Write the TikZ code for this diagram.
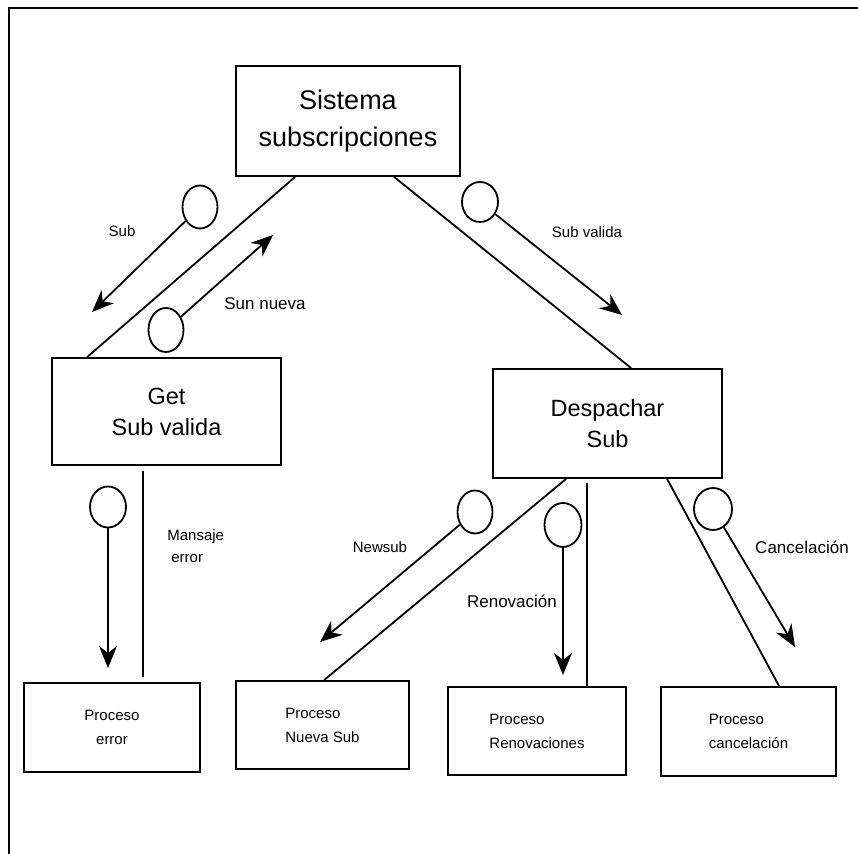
\documentclass[tikz,border=0pt]{standalone}
\usepackage{fontspec}
\setmainfont{Liberation Sans}
\usetikzlibrary{arrows.meta,shapes.geometric}
\begin{document}
\begin{tikzpicture}[x=0.5pt,y=-0.5pt,
  box/.style={draw,line width=0.9pt,rectangle,inner sep=0pt},
  bigfont/.style={font=\fontsize{13.5}{18.5}\selectfont},
  midfont/.style={font=\fontsize{11.75}{15.5}\selectfont},
  smallfont/.style={font=\fontsize{7.5}{12}\selectfont},
  lbl/.style={font=\fontsize{7.5}{11}\selectfont,inner sep=0pt},
  lblbig/.style={font=\fontsize{8.5}{11}\selectfont,inner sep=0pt},
  port/.style={draw,ellipse,line width=0.9pt,minimum width=18pt,minimum height=21.5pt,inner sep=0pt},
  flow/.style={line width=0.9pt,-{Stealth[length=11pt,width=9pt,inset=3.5pt]}},
  link/.style={line width=0.9pt}
]
\useasboundingbox[fill=white] (0,0) rectangle (858,854);
% frame
\coordinate (fr1) at (858,8);
\coordinate (fr2) at (9,8);
\coordinate (fr3) at (9,854);
\draw[link] (fr1) -- (fr2) -- (fr3);

% boxes
\node[box,bigfont,align=center,minimum width=112pt,minimum height=55pt] (A) at (348,121) {Sistema\\subscripciones};
\node[box,midfont,align=center,minimum width=114.5pt,minimum height=53.5pt] (B) at (166.5,411.5) {Get\\Sub valida};
\node[box,midfont,align=center,minimum width=114.5pt,minimum height=54.5pt] (C) at (607.5,423.5) {Despachar\\Sub};
\node[box,smallfont,align=center,minimum width=88pt,minimum height=44.5pt] (P1) at (112,727.5) {Proceso\\error};
\node[box,smallfont,align=left,minimum width=86.5pt,minimum height=44pt] (P2) at (322.5,725) {Proceso\\Nueva Sub};
\node[box,smallfont,align=left,minimum width=89pt,minimum height=44pt] (P3) at (537,731) {Proceso\\Renovaciones};
\node[box,smallfont,align=left,minimum width=87.5pt,minimum height=44.5pt] (P4) at (748.5,731.5) {Proceso\\cancelación};

% links between boxes
\draw[link] ([xshift=30pt]A.south west) -- ([xshift=18pt]B.north west);
\draw[link] ([xshift=79.5pt]A.south west) -- ([xshift=69.5pt]C.north west);
\draw[link] ([xshift=46pt,yshift=-2.5pt]B.south west) -- ([xshift=60pt,yshift=2.5pt]P1.north west);
\draw[link] ([xshift=37pt]C.south west) -- ([xshift=44.5pt]P2.north west);
\draw[link] ([xshift=47.5pt,yshift=-2pt]C.south west) -- ([xshift=70pt]P3.north west);
\draw[link] ([xshift=87.5pt]C.south west) -- ([xshift=59.5pt]P4.north west);

% flow markers
\node[port,minimum width=17.5pt,minimum height=21.5pt] (c1) at (200,207) {};
\coordinate (t1) at (92,312);
\draw[flow] (c1) -- (t1);
\node[lbl] (l1) at (122,231) {Sub};

\node[port,minimum width=17.5pt,minimum height=22pt] (c2) at (166,330) {};
\coordinate (t2) at (273,235);
\draw[flow] (c2) -- (t2);
\node[lblbig] (l2) at (265,304) {Sun nueva};

\node[port,minimum width=18pt,minimum height=20pt] (c3) at (480,202) {};
\coordinate (t3) at (622,315);
\draw[flow] (c3) -- (t3);
\node[lbl] (l3) at (587,232) {Sub valida};

\node[port,minimum width=18pt,minimum height=20.5pt] (c4) at (108,507) {};
\coordinate (t4) at (108,668);
\draw[flow] (c4) -- (t4);
\node[lbl,align=left,anchor=north west] (l4) at (167,529) {Mansaje\\\hspace*{2pt}error};

\node[port,minimum width=17.5pt,minimum height=21.5pt] (c5) at (475,512) {};
\coordinate (t5) at (320,642);
\draw[flow] (c5) -- (t5);
\node[lbl] (l5) at (380,547) {Newsub};

\node[port,minimum width=18.5pt,minimum height=22pt] (c6) at (563,525) {};
\coordinate (t6) at (563,675);
\draw[flow] (c6) -- (t6);
\node[lblbig] (l6) at (512,601) {Renovación};

\node[port,minimum width=19pt,minimum height=21pt] (c7) at (713,509) {};
\coordinate (t7) at (795,647);
\draw[flow] (c7) -- (t7);
\node[lblbig] (l7) at (802,547) {Cancelación};
\end{tikzpicture}
\end{document}
